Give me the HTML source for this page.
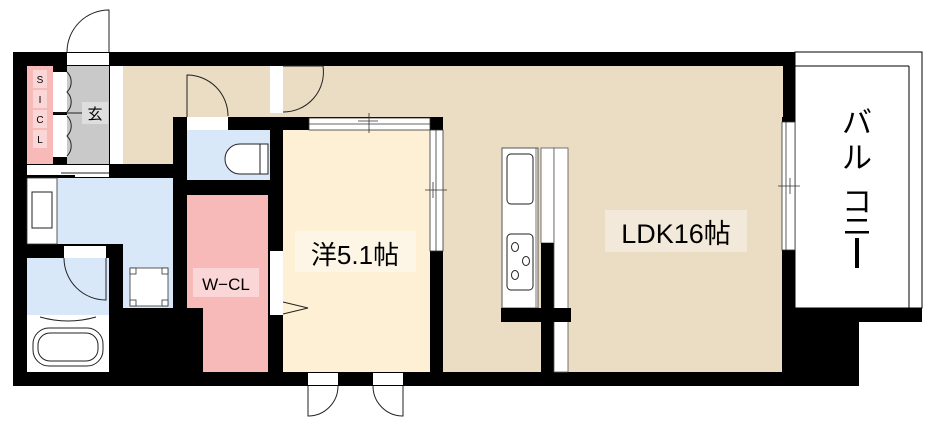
<!DOCTYPE html>
<html><head><meta charset="utf-8"><style>
html,body{margin:0;padding:0;background:#fff;}
svg{display:block;}
text{font-family:"Liberation Sans","Noto Sans CJK JP",sans-serif;}
text.jp{font-family:"Noto Sans CJK JP",sans-serif;}
</style></head><body>
<svg width="936" height="427" viewBox="0 0 936 427" xmlns="http://www.w3.org/2000/svg">
<rect x="13" y="52" width="782" height="334" fill="#000"/>
<rect x="782" y="308" width="140" height="14" fill="#000"/>
<rect x="782" y="320" width="77" height="66" fill="#000"/>
<!-- balcony -->
<rect x="795" y="52" width="127" height="256" fill="#fff" stroke="#000" stroke-width="1"/>
<line x1="795" y1="66" x2="909" y2="66" stroke="#000" stroke-width="1"/>
<line x1="909" y1="66" x2="909" y2="308" stroke="#000" stroke-width="1"/>
<text class="jp" x="857" y="133" font-size="30" text-anchor="middle">バ</text>
<text class="jp" x="857" y="168" font-size="30" text-anchor="middle">ル</text>
<text class="jp" x="857" y="212" font-size="30" text-anchor="middle">コ</text>
<rect x="847" y="219" width="20" height="2.5" fill="#000"/>
<rect x="845" y="231" width="24" height="2.5" fill="#000"/>
<rect x="855" y="238" width="4" height="30" fill="#000"/>

<rect x="443" y="66" width="339" height="306" fill="#ebdcc4"/>
<rect x="123" y="66" width="660" height="51" fill="#ebdcc4"/>
<rect x="123" y="117" width="50" height="47" fill="#ebdcc4"/>
<rect x="283" y="66" width="160" height="51" fill="#ebdcc4"/>
<rect x="782" y="122" width="13" height="128" fill="#fff" stroke="#333" stroke-width="0.8"/>
<line x1="786" y1="122" x2="786" y2="250" stroke="#333" stroke-width="0.8"/>
<line x1="778" y1="186" x2="800" y2="186" stroke="#333" stroke-width="0.8"/>
<line x1="790" y1="178" x2="790" y2="194" stroke="#333" stroke-width="0.8"/>

<rect x="27" y="66" width="26" height="98" fill="#f8b9b9"/>
<rect x="33" y="70" width="14" height="18" fill="#fbd6d6"/><text x="40" y="83" font-size="10" text-anchor="middle">S</text>
<rect x="33" y="90" width="14" height="18" fill="#fbd6d6"/><text x="40" y="103" font-size="10" text-anchor="middle">I</text>
<rect x="33" y="110" width="14" height="18" fill="#fbd6d6"/><text x="40" y="123" font-size="10" text-anchor="middle">C</text>
<rect x="33" y="130" width="14" height="18" fill="#fbd6d6"/><text x="40" y="143" font-size="10" text-anchor="middle">L</text>
<rect x="53" y="72" width="14" height="40" fill="#fff"/>
<rect x="53" y="115" width="14" height="42" fill="#fff"/>
<rect x="67" y="66" width="42" height="98" fill="#c9c9c9"/>
<path d="M67 72 A14 14 0 0 1 67 92 A14 14 0 0 1 67 112 M67 116 A14 14 0 0 1 67 136 A14 14 0 0 1 67 156" fill="none" stroke="#222" stroke-width="1"/>
<line x1="53" y1="113" x2="100" y2="113" stroke="#222" stroke-width="1"/>
<rect x="82" y="102" width="26" height="22" fill="#dedede"/>
<text x="95" y="119" font-size="15" text-anchor="middle">玄</text>
<rect x="110" y="66" width="13" height="98" fill="#fff"/>
<rect x="67" y="53" width="42" height="12" fill="#fff"/>
<path d="M109 52 L109 10 A42 42 0 0 0 67 52" fill="none" stroke="#222" stroke-width="1"/>
<rect x="27" y="165" width="82" height="12" fill="#fff"/>
<line x1="61" y1="173" x2="109" y2="173" stroke="#222" stroke-width="1"/>
<rect x="27" y="175" width="48" height="3" fill="#000"/>

<rect x="57" y="178" width="116" height="66" fill="#d9e8f9"/>
<rect x="123" y="244" width="50" height="64" fill="#d9e8f9"/>
<rect x="27" y="178" width="30" height="66" fill="#fff" stroke="#333" stroke-width="0.8"/>
<rect x="32" y="192" width="20" height="36" fill="#fff" stroke="#222" stroke-width="1"/>
<rect x="130" y="268" width="38" height="38" fill="#fff" stroke="#333" stroke-width="0.8"/>
<rect x="130" y="268" width="6" height="6" fill="#fff" stroke="#333" stroke-width="0.8"/>
<rect x="162" y="268" width="6" height="6" fill="#fff" stroke="#333" stroke-width="0.8"/>
<rect x="130" y="300" width="6" height="6" fill="#fff" stroke="#333" stroke-width="0.8"/>
<rect x="162" y="300" width="6" height="6" fill="#fff" stroke="#333" stroke-width="0.8"/>
<rect x="27" y="258" width="82" height="57" fill="#d9e8f9"/>
<rect x="64" y="246" width="42" height="12" fill="#fff"/>
<path d="M106 258 L106 300 A42 42 0 0 1 64 258" fill="none" stroke="#222" stroke-width="1"/>
<rect x="27" y="315" width="82" height="57" fill="#fff"/>
<path d="M40 317 Q68 325 96 317" fill="none" stroke="#222" stroke-width="1"/>
<rect x="33" y="328" width="70" height="38" rx="16" fill="none" stroke="#222" stroke-width="1"/>
<rect x="38" y="333" width="60" height="28" rx="12" fill="none" stroke="#222" stroke-width="1"/>

<rect x="187" y="130" width="83" height="50" fill="#d9e8f9"/>
<rect x="187" y="117" width="41" height="13" fill="#fff"/>
<path d="M187 117 L187 75 A41 41 0 0 1 228 116" fill="none" stroke="#222" stroke-width="1"/>
<path d="M260 144 L240 144 A12 12 0 0 0 240 174 L260 174 Z" fill="#fff" stroke="#222" stroke-width="1"/>
<rect x="260" y="144" width="8" height="30" fill="#fff" stroke="#222" stroke-width="1"/>

<rect x="187" y="195" width="81" height="113" fill="#f8b9b9"/>
<rect x="203" y="308" width="65" height="64" fill="#f8b9b9"/>
<rect x="193" y="268" width="66" height="29" fill="#fbd6d6"/>
<text x="226" y="290" font-size="17" text-anchor="middle">W−CL</text>

<rect x="270" y="66" width="13" height="47" fill="#fff"/>
<path d="M283 66 L323 66 A40 40 0 0 1 283 112" fill="none" stroke="#222" stroke-width="1"/>

<rect x="283" y="130" width="147" height="242" fill="#fdf0d4"/>
<rect x="309" y="118" width="121" height="12" fill="#fff" stroke="#333" stroke-width="0.8"/>
<line x1="309" y1="124" x2="430" y2="124" stroke="#333" stroke-width="0.8"/>
<line x1="358" y1="121" x2="378" y2="121" stroke="#333" stroke-width="0.8"/>
<line x1="369" y1="113" x2="369" y2="133" stroke="#333" stroke-width="0.8"/>
<rect x="430" y="130" width="13" height="121" fill="#fff" stroke="#333" stroke-width="0.8"/>
<line x1="436" y1="130" x2="436" y2="251" stroke="#333" stroke-width="0.8"/>
<line x1="425" y1="190" x2="447" y2="190" stroke="#333" stroke-width="0.8"/>
<line x1="433" y1="182" x2="433" y2="198" stroke="#333" stroke-width="0.8"/>
<rect x="270" y="251" width="13" height="64" fill="#fff"/>
<path d="M283 302 L308 308 L283 314" fill="none" stroke="#222" stroke-width="1"/>
<rect x="295" y="231" width="121" height="41" fill="#fdf6e6"/>
<text x="355" y="264" font-size="26" text-anchor="middle">洋5.1帖</text>
<rect x="308" y="373" width="30" height="12" fill="#fff"/>
<rect x="373" y="373" width="30" height="12" fill="#fff"/>
<path d="M308 386 L308 416 A30 30 0 0 0 338 386" fill="none" stroke="#222" stroke-width="1"/>
<path d="M403 386 L403 416 A30 30 0 0 1 373 386" fill="none" stroke="#222" stroke-width="1"/>

<rect x="502" y="148" width="36" height="160" fill="#fff" stroke="#555" stroke-width="1"/>
<line x1="536" y1="148" x2="536" y2="308" stroke="#555" stroke-width="0.8"/>
<rect x="507" y="154" width="26" height="50" rx="4" fill="none" stroke="#222" stroke-width="1"/>
<rect x="507" y="234" width="26" height="56" rx="4" fill="none" stroke="#222" stroke-width="1"/>
<ellipse cx="515" cy="247" rx="3.5" ry="4.5" fill="none" stroke="#222" stroke-width="1"/>
<ellipse cx="526" cy="261" rx="3.5" ry="4.5" fill="none" stroke="#222" stroke-width="1"/>
<ellipse cx="515" cy="275" rx="3.5" ry="4.5" fill="none" stroke="#222" stroke-width="1"/>
<rect x="541" y="148" width="13" height="95" fill="#fff" stroke="#555" stroke-width="0.8"/>
<rect x="541" y="243" width="13" height="129" fill="#000"/>
<rect x="554" y="148" width="14" height="224" fill="#fff" stroke="#555" stroke-width="0.8"/>
<rect x="501" y="308" width="70" height="14" fill="#000"/>

<rect x="605" y="210" width="142" height="42" fill="#f2e9da"/>
<text x="676" y="243" font-size="27" text-anchor="middle">LDK16帖</text>
</svg>
</body></html>
